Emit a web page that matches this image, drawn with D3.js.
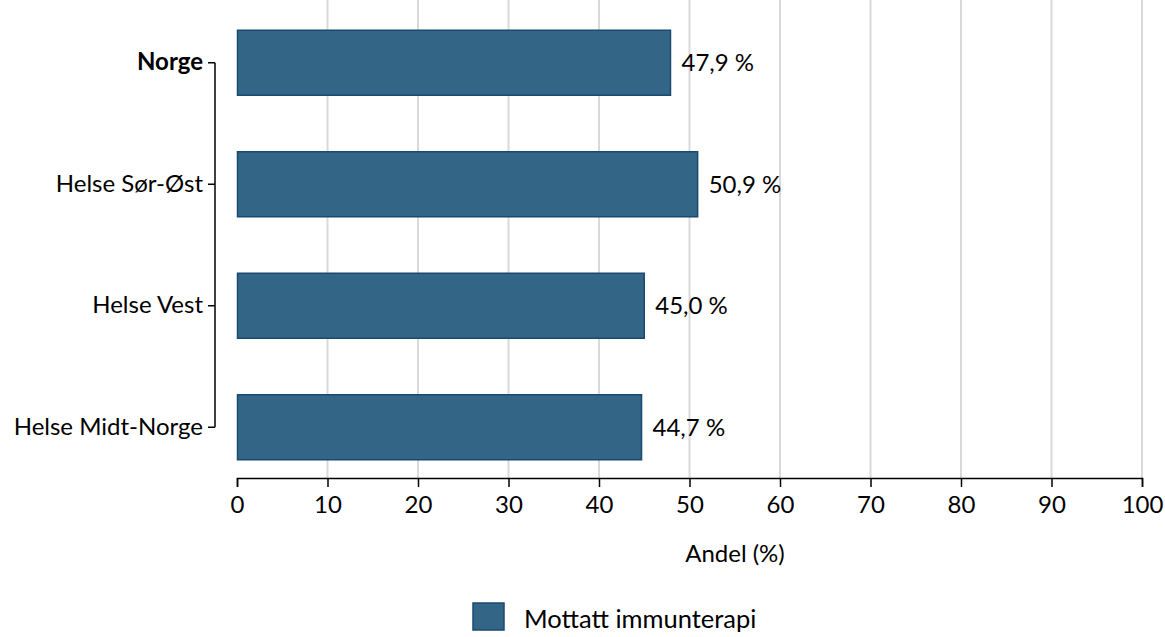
<!DOCTYPE html>
<html><head><meta charset="utf-8">
<script src="https://cdn.jsdelivr.net/npm/d3@7"></script>
<style>body{margin:0;background:#fff}svg{display:block}text{font-family:Lato,"Open Sans",sans-serif;fill:#000}</style>
</head><body><svg id="c" width="1165" height="637"></svg>
<script>
const categories = ["Norge","Helse Sør-Øst","Helse Vest","Helse Midt-Norge"];
const values = [47.9, 50.9, 45.0, 44.7];
const xTicks = [0,10,20,30,40,50,60,70,80,90,100];
const seriesName = "Mottatt immunterapi";
const axisTitle = "Andel (%)";

const FS = 24;
const svg = d3.select("#c");
const fill = "#336586", stroke = "#1a4a70";
const x = d3.scaleLinear().domain([0,100]).range([237,1142]);
const y = d3.scaleBand().domain(categories).range([2,488]).paddingInner(0.465).paddingOuter(0.2325);
const axisY = 478;

// gridlines
svg.append("g").selectAll("line").data(xTicks.filter(d=>d>0)).join("line")
  .attr("x1",d=>x(d)).attr("x2",d=>x(d)).attr("y1",0).attr("y2",axisY)
  .attr("stroke","#d9d9d9").attr("stroke-width",2);

// bars
svg.append("g").selectAll("rect").data(categories).join("rect")
  .attr("x",x(0)+0.5).attr("y",d=>y(d))
  .attr("width",(d,i)=>x(values[i])-x(0)-0.5).attr("height",y.bandwidth())
  .attr("fill",fill).attr("stroke",stroke).attr("stroke-width",1.5);

// value labels
svg.append("g").selectAll("text").data(categories).join("text")
  .attr("x",(d,i)=>x(values[i])+11).attr("y",d=>y(d)+y.bandwidth()/2)
  .attr("dy","0.35em").attr("font-size",FS)
  .text((d,i)=>d3.format(".1f")(values[i]).replace(".",",")+" %");

// x axis
const gx = svg.append("g").attr("transform",`translate(0,${axisY})`)
  .call(d3.axisBottom(x).tickValues(xTicks).tickSize(9).tickSizeOuter(9).tickPadding(9));
gx.select(".domain").attr("stroke","#000").attr("stroke-width",1.5);
gx.selectAll(".tick line").attr("stroke","#000").attr("stroke-width",1.5);
gx.selectAll(".tick text").attr("font-size",FS).attr("font-family","Lato,'Open Sans',sans-serif").attr("fill","#000");

// y axis
const gy = svg.append("g").attr("transform","translate(215,0)")
  .call(d3.axisLeft(y).tickSize(7).tickSizeOuter(0).tickPadding(5));
gy.select(".domain").attr("stroke","#000").attr("stroke-width",1.5)
  .attr("d",`M0,${y(categories[0])+y.bandwidth()/2}V${y(categories[3])+y.bandwidth()/2}`);
gy.selectAll(".tick line").attr("stroke","#000").attr("stroke-width",1.5);
gy.selectAll(".tick text").attr("font-size",FS).attr("font-family","Lato,'Open Sans',sans-serif").attr("fill","#000")
  .attr("font-weight",d=>d==="Norge"?"bold":"normal");

// axis title
svg.append("text").attr("x",735).attr("y",562).attr("text-anchor","middle").attr("font-size",FS).text(axisTitle);

// legend
svg.append("rect").attr("x",473).attr("y",603).attr("width",31).attr("height",27).attr("fill",fill).attr("stroke",stroke).attr("stroke-width",1.5);
svg.append("text").attr("x",524).attr("y",628).attr("font-size",25.5).text(seriesName);
</script></body></html>
